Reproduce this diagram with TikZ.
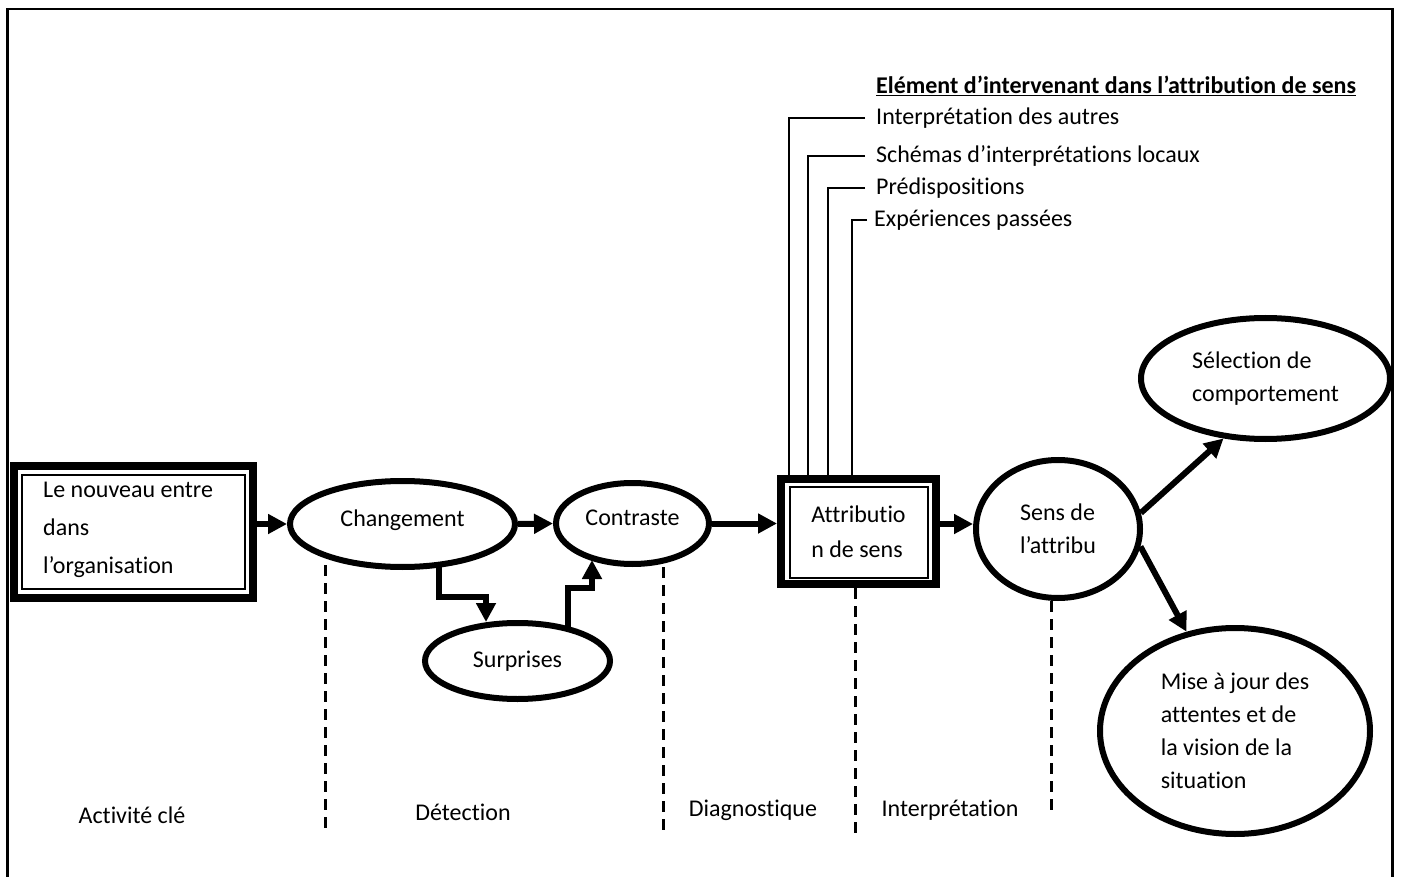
\documentclass[tikz,border=0pt]{standalone}
\usepackage{fontspec}
\setmainfont{Carlito}[Ligatures={TeX,NoCommon}]
\usetikzlibrary{arrows.meta,shapes.geometric}
\begin{document}
\begin{tikzpicture}[x=1pt,y=-1pt,
  txt/.style={font=\fontsize{24}{33}\selectfont, inner sep=0pt, align=left},
  oval/.style={ellipse, draw, line width=6pt, inner sep=0pt, align=left,
    font=\fontsize{24}{33}\selectfont},
  thickframe/.style={rectangle, draw, line width=8pt, inner sep=0pt, align=left},
  innerframe/.style={line width=2pt},
  flow/.style={line width=6pt, -{Triangle[length=19pt,width=19pt]}},
  feed/.style={line width=2pt},
  phase/.style={line width=3pt, dash pattern=on 11pt off 7pt},
]
\useasboundingbox (0,0) rectangle (1401,877);

% outer frame
\draw[line width=2.5pt] (7.5,885) -- (7.5,9) -- (1392.5,9) -- (1392.5,885);

% entry box
\node[thickframe, minimum width=239pt, minimum height=132pt] (lbox) at (133.5,532) {};
\draw[innerframe] ([shift={(12,13)}]lbox.north west) rectangle ([shift={(-12,-13)}]lbox.south east);
\node[txt, anchor=west, font=\fontsize{24}{38}\selectfont] (lbtext) at (43,530)
  {Le nouveau entre\\dans\\l’organisation};

% attribution box
\node[thickframe, minimum width=155pt, minimum height=105pt,
  font=\fontsize{24}{35}\selectfont] (attr) at (858.5,531.5) {Attributio\\n de sens};
\draw[innerframe] ([shift={(13,12)}]attr.north west) rectangle ([shift={(-12,-10)}]attr.south east);

% ovals
\node[oval, minimum width=225pt, minimum height=86pt, text depth=12pt] (chg) at (402.5,524) {Changement};
\node[oval, minimum width=153pt, minimum height=81pt, text depth=12pt] (cont) at (632.5,523.5) {Contraste};
\node[oval, minimum width=185pt, minimum height=76pt] (surp) at (517.5,661) {Surprises};
\node[oval, minimum width=164pt, minimum height=138pt] (sens) at (1058,529) {Sens de\\l’attribu};
\node[oval, minimum width=249pt, minimum height=121pt] (sel) at (1265.5,378.5) {Sélection de\\comportement};
\node[oval, minimum width=270pt, minimum height=206pt] (mise) at (1235,731)
  {Mise à jour des\\attentes et de\\la vision de la\\situation};

% main flow
\draw[flow] (lbox.east |- chg.west) -- (chg.west);
\draw[flow] (chg.east) -- (cont.west);
\draw[flow] (cont.east) -- (cont.east -| attr.west);
\draw[flow] (attr.east |- chg.west) -- (sens.west |- chg.west);
\draw[flow] ([shift={(36.5,-4)}]chg.south) -- ++(0,31) -| ([shift={(-31.5,2)}]surp.north);
\draw[flow] ([shift={(50.5,7)}]surp.north) -- ++(0,-39) -| ([shift={(-40.5,-7)}]cont.south);
\draw[flow] (sens.11) -- (sel.235);
\draw[flow] (sens.-12) -- (mise.116);

% contributing elements
\node[txt, anchor=west, font=\fontsize{24}{33}\selectfont\bfseries] (title) at (876,86)
  {\underline{Elément d’intervenant dans l’attribution de sens}};
\node[txt, anchor=west] (f1) at (876,118) {Interprétation des autres};
\node[txt, anchor=west] (f2) at (876,156) {Schémas d’interprétations locaux};
\node[txt, anchor=west] (f3) at (876,188) {Prédispositions};
\node[txt, anchor=west] (f4) at (874,220) {Expériences passées};
\draw[feed] ([xshift=-11pt]f1.west) -| ([xshift=12pt]attr.north west);
\draw[feed] ([xshift=-11pt]f2.west) -| ([xshift=31pt]attr.north west);
\draw[feed] ([xshift=-11pt]f3.west) -| ([xshift=51pt]attr.north west);
\draw[feed] ([xshift=-7pt]f4.west) -| ([xshift=75pt]attr.north west);

% phase separators
\coordinate (e1) at (325,835);
\coordinate (e2) at (663,835);
\coordinate (e3) at (855,835);
\coordinate (e4) at (1051,810);
\draw[phase] ([shift={(-77.5,-5)}]chg.south) -- (e1);
\draw[phase] ([shift={(30.5,0)}]cont.south) -- (e2);
\draw[phase] ([shift={(-3.5,0)}]attr.south) -- (e3);
\draw[phase] ([shift={(-7,0)}]sens.south) -- (e4);

% phase labels
\node[txt] (k1) at (132,815) {Activité clé};
\node[txt] (k2) at (463,812) {Détection};
\node[txt] (k3) at (753,810) {Diagnostique};
\node[txt] (k4) at (950,810) {Interprétation};
\end{tikzpicture}
\end{document}
